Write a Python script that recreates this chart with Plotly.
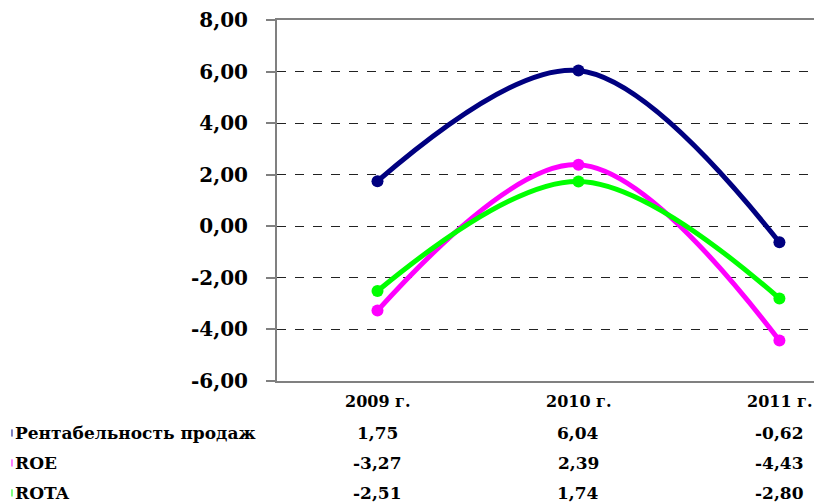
import plotly.graph_objects as go

years = ["2009 г.", "2010 г.", "2011 г."]
series_names = ["Рентабельность продаж", "ROE", "ROTA"]
sales_margin = [1.75, 6.04, -0.62]
roe = [-3.27, 2.39, -4.43]
rota = [-2.51, 1.74, -2.80]
colors = ["#000080", "#FF00FF", "#00FF00"]
y_ticks = [-6, -4, -2, 0, 2, 4, 6, 8]

series_values = [sales_margin, roe, rota]
FONT = "'DejaVu Serif', serif"

def fmt(v):
    return f"{v:.2f}".replace(".", ",")

fig = go.Figure()
xs = list(range(len(years)))
for name, vals, col in zip(series_names, series_values, colors):
    fig.add_trace(go.Scatter(
        x=xs, y=vals, name=name, mode="lines+markers",
        line=dict(color=col, width=5, shape="spline", smoothing=1.0),
        marker=dict(color=col, size=12),
        showlegend=False,
    ))

annotations = []
for i, yr in enumerate(years):
    annotations.append(dict(x=i, y=-0.058, xref="x", yref="paper", text=f"<b>{yr}</b>",
                            showarrow=False, xanchor="center", yanchor="middle",
                            font=dict(family=FONT, size=16, color="black")))
row_y = [-0.144, -0.227, -0.310]
shapes = []
for r, (name, vals, col) in enumerate(zip(series_names, series_values, colors)):
    annotations.append(dict(x=-0.491, y=row_y[r], xref="paper", yref="paper", text=f"<b>{name}</b>",
                            showarrow=False, xanchor="left", yanchor="middle",
                            font=dict(family=FONT, size=17, color="black")))
    shapes.append(dict(type="line", xref="paper", yref="paper",
                       x0=-0.4935, x1=-0.4935, y0=row_y[r] - 0.01, y1=row_y[r] + 0.01,
                       line=dict(color=col, width=1)))
    for i, v in enumerate(vals):
        annotations.append(dict(x=i, y=row_y[r], xref="x", yref="paper", text=f"<b>{fmt(v)}</b>",
                                showarrow=False, xanchor="center", yanchor="middle",
                                font=dict(family=FONT, size=17, color="black")))

fig.update_layout(
    width=814, height=504,
    margin=dict(l=277, r=0, t=20, b=123),
    paper_bgcolor="white", plot_bgcolor="white",
    annotations=annotations, shapes=shapes,
    xaxis=dict(range=[-0.5, 2.172], tickvals=xs, showticklabels=False,
               showline=True, linecolor="#808080", linewidth=2, mirror=True,
               showgrid=False, zeroline=False, ticks=""),
    yaxis=dict(range=[-6, 8], tickvals=y_ticks, ticktext=[f"<b>{fmt(v)}</b>" for v in y_ticks],
               showline=True, linecolor="#808080", linewidth=2,
               ticks="outside", ticklen=9, tickcolor="#808080", tickwidth=1.5,
               showgrid=True, gridcolor="#222222", gridwidth=1, griddash="dash",
               zeroline=False, ticklabelstandoff=14, ticklabeloverflow="allow",
               tickfont=dict(family=FONT, size=20, color="black")),
)

fig.write_html(
    "out.html",
    config={"displayModeBar": False},
    post_script="document.body.style.margin='0';document.body.style.overflow='hidden';",
)
